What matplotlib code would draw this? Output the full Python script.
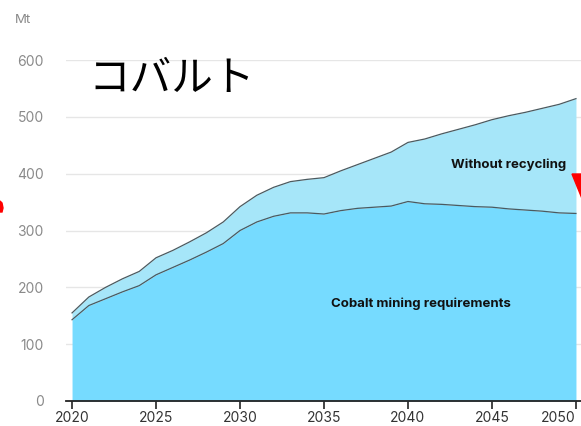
import matplotlib
matplotlib.use('Agg')
import matplotlib.pyplot as plt
from matplotlib.patches import Polygon

# Data (Mt)
years = list(range(2020, 2051))
mining = [143, 168, 180, 192, 203, 222, 235, 248, 262, 277,
          300, 315, 325, 331, 331, 329, 335, 339, 341, 343,
          351, 347, 346, 344, 342, 341, 338, 336, 334, 331, 330]
without_recycling = [155, 183, 200, 215, 228, 252, 265, 280, 296, 315,
                     342, 362, 376, 386, 390, 393, 405, 416, 427, 438,
                     455, 461, 470, 478, 486, 495, 502, 508, 515, 522, 532]
x_ticks = [2020, 2025, 2030, 2035, 2040, 2045, 2050]
y_ticks = [0, 100, 200, 300, 400, 500, 600]

plt.rcParams['font.family'] = ['Inter', 'DejaVu Sans']

W, H = 581, 426
fig = plt.figure(figsize=(W / 100, H / 100), dpi=100)
ax = fig.add_axes([66 / W, (H - 401) / H, (W - 66) / W, 341 / H])

bottom_col = '#76dbff'
top_col = '#a6e6f9'
ax.fill_between(years, 0, mining, color=bottom_col, lw=0, zorder=2)
ax.fill_between(years, mining, without_recycling, color=top_col, lw=0, zorder=2)
ax.plot(years, mining, color='#4a5a60', lw=0.9, zorder=3)
ax.plot(years, without_recycling, color='#4a5a60', lw=0.9, zorder=3)

ax.set_xlim(2019.64, 2050.3)
ax.set_ylim(0, 600)
ax.set_xticks(x_ticks)
ax.set_yticks(y_ticks)
ax.grid(axis='y', color='#e6e6e6', lw=1, zorder=1)
ax.set_axisbelow(True)
for s in ['top', 'right', 'left']:
    ax.spines[s].set_visible(False)
ax.spines['bottom'].set_color('#222222')
ax.spines['bottom'].set_linewidth(1.3)
ax.spines['bottom'].set_zorder(4)
ax.tick_params(axis='x', length=6, width=1.2, color='#222222',
               labelsize=10, labelcolor='#333333', pad=1)
ax.tick_params(axis='y', length=0, labelsize=10, labelcolor='#8a8a8a', pad=16)
ax.get_xticklabels()[-1].set_horizontalalignment('right')

fig.text(15 / W, 1 - 20 / H, 'Mt', fontsize=9.5, color='#8a8a8a', va='center')

ax.text(2021.0, 565, 'コバルト', fontsize=30, color='black', va='center',
        family=['Noto Sans CJK JP', 'DejaVu Sans'], zorder=5)
ax.text(2046.0, 415, 'Without recycling', fontsize=9.5, fontweight='bold',
        color='#111111', ha='center', va='center', zorder=5)
ax.text(2040.8, 171, 'Cobalt mining requirements', fontsize=9.5, fontweight='bold',
        color='#111111', ha='center', va='center', zorder=5)

# red marks cut by the figure edges
frag = Polygon([(0, 1 - 201 / H), (2 / W, 1 - 203 / H), (3 / W, 1 - 208 / H),
                (2 / W, 1 - 212 / H), (0, 1 - 212 / H)],
               closed=True, transform=fig.transFigure, color='red', zorder=10)
fig.patches.append(frag)
tri = Polygon([(572 / W, 1 - 174 / H), (595 / W, 1 - 174 / H), (583 / W, 1 - 201 / H)],
              closed=True, transform=fig.transFigure, color='red', zorder=10)
fig.patches.append(tri)

fig.savefig('out.png', dpi=100)
